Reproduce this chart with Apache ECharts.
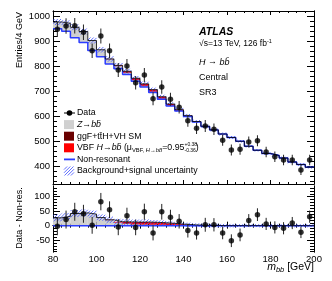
<!DOCTYPE html>
<html><head><meta charset="utf-8">
<script src="https://cdn.jsdelivr.net/npm/echarts@6/dist/echarts.min.js"></script>
<style>html,body{margin:0;padding:0;background:#fff}#c{width:332px;height:281px}</style>
</head><body><div id="c"></div>
<script>
// ---- data ----
const binCenters = [82,86,90,94,98,102,106,110,114,118,122,126,130,134,138,142,146,150,154,158,162,166,170,174,178,182,186,190,194,198];
const binWidth = 4;
const dataCounts = [947,960,961,935,861,920,861,784,800,733,764,669,716,667,635,581,551,560,547,503,464,467,496,501,456,437,424,424,384,424];
const dataErr = [31,31,31,31,29,30,29,28,28,27,28,26,27,26,25,24,23,24,23,22,22,22,22,22,21,21,21,21,20,21];
const residuals = [-2,21,48,41,1,83,55,-5,34,-6,48,-25,48,29,15,-17,-25,3,3,-25,-52,-32,18,38,6,-6,-9,9,-23,31];
const nonRes = [949,939,913,894,862,837,808,789,766,739,716,694,667,640,620,598,576,558,544,528,514,499,479,463,450,442,432,416,406,395];
const zbb  = [27,32,42,44,40,28,19,10,6,4,3,2,1.5,1,0.5,0.3,0.2,0.1,0,0,0,0,0,0,0,0,0,0,0,0];
const ggfH = [0,0,0,0,0,0,0.3,0.5,1,1,1.5,1.5,1.5,1,0.8,0.5,0.3,0.1,0,0,0,0,0,0,0,0,0,0,0,0];
const vbfH = [0,0,0,0,0,0,1,3,6,7,8,8,7,6,4,2.5,1.5,1,0.5,0,0,0,0,0,0,0,0,0,0,0];
const bkgUnc = [12,12,12,12,12,11,11,10,10,9,9,8,8,7,7,7,6,6,6,6,6,5,5,5,5,5,5,5,5,5];
const xTicks = [80,100,120,140,160,180,200];
const yTicksTop = [400,500,600,700,800,900,1000];
const yTicksBottom = [-50,0,50,100];

// ---- derived ----
const n = binCenters.length;
const cumZ = nonRes.map((v,i)=>v+zbb[i]);
const cumG = cumZ.map((v,i)=>v+ggfH[i]);
const cumV = cumG.map((v,i)=>v+vbfH[i]);
const sigZ = zbb.slice();
const sigG = sigZ.map((v,i)=>v+ggfH[i]);
const sigV = sigG.map((v,i)=>v+vbfH[i]);

const FONT = '"Liberation Sans", Arial, Helvetica, sans-serif';
const BLUE = '#2b3cff';
const HATCH = '#3a4cff';
const HS = 3.2; // hatch spacing px

function hatchLines(x0, y0, x1, y1) {
  const out = [];
  const cStart = Math.ceil((x0 + y0) / HS) * HS;
  for (let c = cStart; c <= x1 + y1; c += HS) {
    const xa = Math.max(x0, c - y1), xb = Math.min(x1, c - y0);
    if (xb > xa) out.push([xa, c - xa, xb, c - xb]);
  }
  return out;
}

function rectSeries(xi, yi, lows, highs, style, z) {
  const d = binCenters.map((c,i)=>[c-binWidth/2, c+binWidth/2, lows[i], highs[i]]);
  return {type:'custom', xAxisIndex:xi, yAxisIndex:yi, data:d, silent:true, clip:true, z:z||2,
    encode:{x:[0,1], y:[2,3]},
    renderItem(params, api){
      const p0 = api.coord([api.value(0), api.value(2)]);
      const p1 = api.coord([api.value(1), api.value(3)]);
      return {type:'rect', shape:{x:p0[0], y:Math.min(p0[1],p1[1]), width:p1[0]-p0[0], height:Math.abs(p1[1]-p0[1])}, style:style};
    }};
}
function hatchSeries(xi, yi, lows, highs) {
  const d = binCenters.map((c,i)=>[c-binWidth/2, c+binWidth/2, lows[i], highs[i]]);
  return {type:'custom', xAxisIndex:xi, yAxisIndex:yi, data:d, silent:true, clip:true, z:3,
    encode:{x:[0,1], y:[2,3]},
    renderItem(params, api){
      const p0 = api.coord([api.value(0), api.value(2)]);
      const p1 = api.coord([api.value(1), api.value(3)]);
      const ya = Math.min(p0[1],p1[1]), yb = Math.max(p0[1],p1[1]);
      const segs = hatchLines(p0[0], ya, p1[0], yb);
      return {type:'group', children: segs.map(s=>({type:'line', shape:{x1:s[0],y1:s[1],x2:s[2],y2:s[3]}, style:{stroke:HATCH, lineWidth:0.8}}))};
    }};
}
function stepSeries(xi, yi, vals, color, width, z) {
  const d = binCenters.map((c,i)=>[c-binWidth/2, vals[i]]);
  d.push([binCenters[n-1]+binWidth/2, vals[n-1]]);
  return {type:'line', xAxisIndex:xi, yAxisIndex:yi, step:'end', data:d, symbol:'none', silent:true,
    lineStyle:{color:color, width:width}, z:z||3, animation:false};
}
function errSeries(xi, yi, vals, errs) {
  const d = binCenters.map((c,i)=>[c, vals[i]-errs[i], vals[i]+errs[i]]);
  return {type:'custom', xAxisIndex:xi, yAxisIndex:yi, data:d, silent:true, z:5,
    encode:{x:0, y:[1,2]},
    renderItem(params, api){
      const a = api.coord([api.value(0), api.value(1)]);
      const b = api.coord([api.value(0), api.value(2)]);
      return {type:'line', shape:{x1:a[0], y1:a[1], x2:b[0], y2:b[1]}, style:{stroke:'#222', lineWidth:1}};
    }};
}
function pointSeries(xi, yi, vals) {
  return {type:'scatter', xAxisIndex:xi, yAxisIndex:yi, data:binCenters.map((c,i)=>[c, vals[i]]),
    symbol:'circle', symbolSize:5.5, itemStyle:{color:'#000'}, silent:true, z:6};
}

function range(a, b, s){ const r=[]; for(let v=a; v<=b+1e-9; v+=s) r.push(v); return r; }

const axLine = {show:true, lineStyle:{color:'#000', width:1}};
const fmt = v => String(v);
function xAx(grid, pos, labels, maj, min) {
  return {type:'value', gridIndex:grid, position:pos, min:80, max:200, interval:20,
    axisLine:axLine, splitLine:{show:false},
    axisTick:{show:true, inside:true, length:maj, lineStyle:{color:'#000'}},
    minorTick:{show:true, splitNumber:5, length:min, lineStyle:{color:'#000'}},
    axisLabel:{show:labels, margin:2, color:'#000', fontSize:9.5, fontFamily:FONT, formatter:fmt}};
}
function yAx(grid, pos, mn, mx, vals, labels, len) {
  return {type:'value', gridIndex:grid, position:pos, min:mn, max:mx,
    axisLine:axLine, splitLine:{show:false},
    axisTick:{show:true, inside:true, length:len, customValues:vals, lineStyle:{color:'#000'}},
    axisLabel:{show:labels, customValues:vals, margin:3, color:'#000', fontSize:9.5, fontFamily:FONT, formatter:fmt}};
}

const yTopMin = 328, yTopMax = 1020, yBotMin = -91, yBotMax = 137;

// ---- text helpers ----
const mctx = document.createElement('canvas').getContext('2d');
function fstr(s){ return (s.i?'italic ':'')+(s.b?'bold ':'')+s.size+'px '+FONT; }
function textRun(x, y, segs, align) {
  const w = segs.map(s=>{ mctx.font = fstr(s); return mctx.measureText(s.t).width; });
  let total = 0; segs.forEach((s,k)=>{ if(!s.noAdv) total += w[k]; });
  let cx = align==='right' ? x-total : x;
  const out = [];
  segs.forEach((s,k)=>{
    out.push({type:'text', x:cx, y:y+(s.dy||0), silent:true, z:100,
      style:{text:s.t, font:fstr(s), fill:'#000', align:'left', verticalAlign:'middle'}});
    if(!s.noAdv) cx += w[k];
  });
  return out;
}

const bb = 'bb\u0304';
const graphics = [];
// ATLAS label block
graphics.push(...textRun(199, 32, [{t:'ATLAS', size:10.5, i:true, b:true}]));
graphics.push(...textRun(199, 44, [{t:'\u221As=13 TeV, 126 fb', size:8.5},{t:'-1', size:5.5, dy:-3}]));
graphics.push(...textRun(199, 62, [{t:'H', size:9, i:true},{t:' \u2192 ', size:9},{t:bb, size:9, i:true}]));
graphics.push(...textRun(199, 78, [{t:'Central', size:9}]));
graphics.push(...textRun(199, 93, [{t:'SR3', size:9}]));

// legend
const LX = 64, LW = 10, TX = 77, LS = 8.8;
const rows = [113, 124.6, 136.2, 147.8, 159.4, 171];
graphics.push({type:'line', shape:{x1:LX, y1:rows[0], x2:LX+11, y2:rows[0]}, style:{stroke:'#000', lineWidth:1}, z:100});
graphics.push({type:'circle', shape:{cx:LX+5.5, cy:rows[0], r:2.8}, style:{fill:'#000'}, z:100});
graphics.push(...textRun(TX, rows[0], [{t:'Data', size:LS}]));
graphics.push({type:'rect', shape:{x:LX, y:rows[1]-4.5, width:LW, height:9}, style:{fill:'#d0d0d0'}, z:100});
graphics.push(...textRun(TX, rows[1], [{t:'Z', size:LS, i:true},{t:'\u2192', size:LS},{t:bb, size:LS, i:true}]));
graphics.push({type:'rect', shape:{x:LX, y:rows[2]-4.5, width:LW, height:9}, style:{fill:'#6a0000'}, z:100});
graphics.push(...textRun(TX, rows[2], [{t:'ggF+tt\u0304H+VH SM', size:LS}]));
graphics.push({type:'rect', shape:{x:LX, y:rows[3]-4.5, width:LW, height:9}, style:{fill:'#ff0000'}, z:100});
graphics.push(...textRun(TX, rows[3], [
  {t:'VBF ', size:LS},{t:'H', size:LS, i:true},{t:'\u2192', size:LS},{t:bb, size:LS, i:true},{t:' (\u03BC', size:LS},
  {t:'VBF, ', size:5.8, dy:3},{t:'H', size:5.8, dy:3, i:true},{t:'\u2192', size:5.8, dy:3},{t:bb, size:5.8, dy:3, i:true},
  {t:'=0.95', size:LS},{t:'+0.38', size:5, dy:-3.5, noAdv:true},{t:'-0.36', size:5, dy:3},{t:')', size:LS}]));
graphics.push({type:'line', shape:{x1:LX, y1:rows[4], x2:LX+11, y2:rows[4]}, style:{stroke:BLUE, lineWidth:1.8}, z:100});
graphics.push(...textRun(TX, rows[4], [{t:'Non-resonant', size:LS}]));
hatchLines(LX, rows[5]-4.5, LX+LW, rows[5]+4.5).forEach(s=>{
  graphics.push({type:'line', shape:{x1:s[0],y1:s[1],x2:s[2],y2:s[3]}, style:{stroke:HATCH, lineWidth:0.8}, z:100});
});
graphics.push(...textRun(TX, rows[5], [{t:'Background+signal uncertainty', size:LS}]));

// axis titles
graphics.push({type:'text', x:20, y:12, rotation:Math.PI/2, silent:true, z:100,
  style:{text:'Entries/4 GeV', font:'9px '+FONT, fill:'#000', align:'right', verticalAlign:'middle'}});
graphics.push({type:'text', x:20, y:218, rotation:Math.PI/2, silent:true, z:100,
  style:{text:'Data - Non-res.', font:'9px '+FONT, fill:'#000', align:'center', verticalAlign:'middle'}});
graphics.push(...textRun(314, 267, [{t:'m', size:10.5, i:true},{t:'bb', size:7.5, i:true, dy:3},{t:' [GeV]', size:10.5}], 'right'));

const minorTop = range(340, 1020, 20);
const minorBot = range(-90, 130, 10);

const option = {
  animation:false,
  grid:[{left:53, top:11, width:261, height:173}, {left:53, top:186, width:261, height:66}],
  xAxis:[xAx(0,'bottom',false,4,2), xAx(0,'top',false,4,2), xAx(1,'bottom',true,4,2), xAx(1,'top',false,3,2)],
  yAxis:[
    yAx(0,'left',yTopMin,yTopMax,yTicksTop,true,7),
    yAx(0,'left',yTopMin,yTopMax,minorTop,false,4),
    yAx(0,'right',yTopMin,yTopMax,yTicksTop,false,7),
    yAx(0,'right',yTopMin,yTopMax,minorTop,false,4),
    yAx(1,'left',yBotMin,yBotMax,yTicksBottom,true,7),
    yAx(1,'left',yBotMin,yBotMax,minorBot,false,4),
    yAx(1,'right',yBotMin,yBotMax,yTicksBottom,false,7),
    yAx(1,'right',yBotMin,yBotMax,minorBot,false,4)
  ],
  series:[
    rectSeries(0,0,nonRes,cumZ,{fill:'#d0d0d0'}),
    rectSeries(0,0,cumZ,cumG,{fill:'#6a0000'}),
    rectSeries(0,0,cumG,cumV,{fill:'#ff0000'}),
    hatchSeries(0,0,cumV.map((v,i)=>v-bkgUnc[i]),cumV.map((v,i)=>v+bkgUnc[i])),
    stepSeries(0,0,nonRes,BLUE,1.5,4),
    stepSeries(0,0,cumV,'#000',0.8,4),
    errSeries(0,0,dataCounts,dataErr),
    pointSeries(0,0,dataCounts),

    rectSeries(2,4,binCenters.map(()=>0),sigZ,{fill:'#d0d0d0'}),
    rectSeries(2,4,sigZ,sigG,{fill:'#6a0000'}),
    rectSeries(2,4,sigG,sigV,{fill:'#ff0000'}),
    hatchSeries(2,4,sigV.map((v,i)=>v-bkgUnc[i]),sigV.map((v,i)=>v+bkgUnc[i])),
    stepSeries(2,4,binCenters.map(()=>0),BLUE,1.5,4),
    stepSeries(2,4,sigV,'#000',0.8,4),
    errSeries(2,4,residuals,dataErr),
    pointSeries(2,4,residuals)
  ],
  graphic:graphics
};
const chart = echarts.init(document.getElementById('c'), null, {renderer:'canvas'});
chart.setOption(option);
</script>
</body></html>
